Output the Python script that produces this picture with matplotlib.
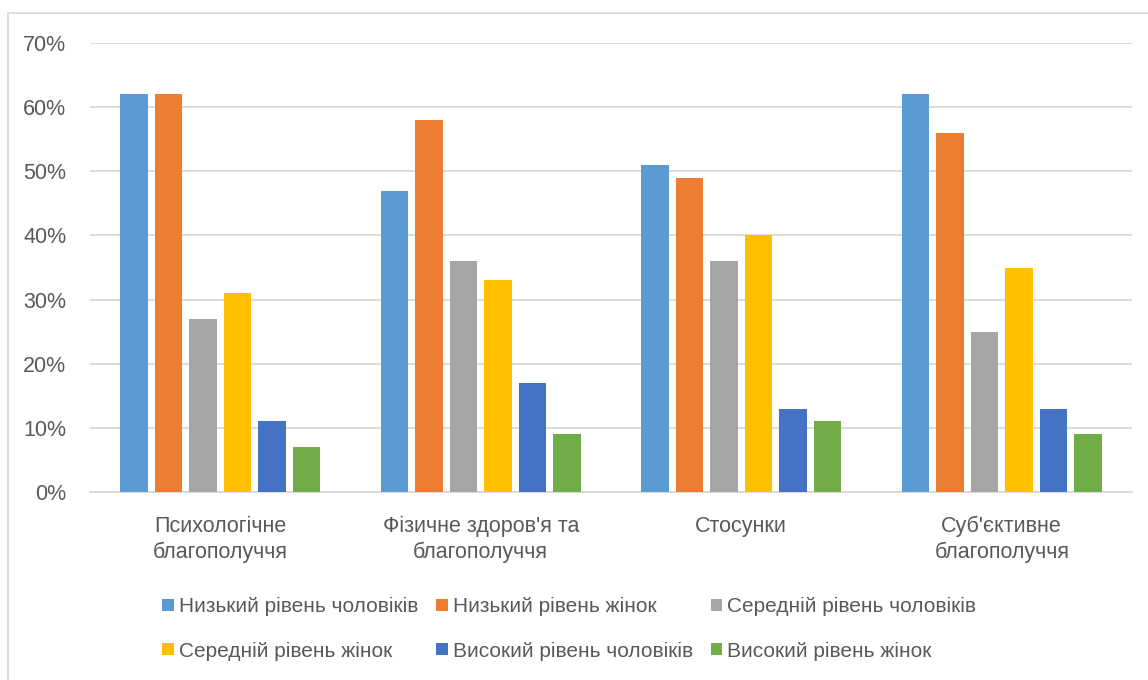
import numpy as np
import matplotlib.pyplot as plt
from matplotlib.patches import Rectangle

plt.rcParams['font.family'] = ['Liberation Sans', 'DejaVu Sans']

categories = ["Психологічне\nблагополуччя", "Фізичне здоров'я та\nблагополуччя",
              "Стосунки", "Суб'єктивне\nблагополуччя"]
series_names = ["Низький рівень чоловіків", "Низький рівень жінок",
                "Середній рівень чоловіків", "Середній рівень жінок",
                "Високий рівень чоловіків", "Високий рівень жінок"]
low_men = [62, 47, 51, 62]
low_women = [62, 58, 49, 56]
mid_men = [27, 36, 36, 25]
mid_women = [31, 33, 40, 35]
high_men = [11, 17, 13, 13]
high_women = [7, 9, 11, 9]
yticks = [0, 10, 20, 30, 40, 50, 60, 70]

colors = ['#5B9BD5', '#ED7D31', '#A5A5A5', '#FFC000', '#4472C4', '#70AD47']
txt_col = '#595959'
grid_col = '#D9D9D9'

fig = plt.figure(figsize=(11.48, 6.8), dpi=100)
ax = fig.add_axes([90/1148, 1 - 492/680, (1132 - 90)/1148, (492 - 43)/680])

# outer chart frame
fig.patches.append(Rectangle((8/1148, -0.1), 1.2, 1.1 - 13/680, transform=fig.transFigure,
                             fill=False, edgecolor=grid_col, linewidth=1.3))

data = [low_men, low_women, mid_men, mid_women, high_men, high_women]
x = np.arange(len(categories))
pitch = 0.1325
width = 0.104
handles = []
for i, vals in enumerate(data):
    off = (i - 2.5) * pitch
    b = ax.bar(x + off, vals, width, color=colors[i], zorder=3)
    handles.append(b)

ax.set_xlim(-0.5, len(categories) - 0.5)
ax.set_ylim(0, 70)
ax.set_yticks(yticks)
ax.set_yticklabels([f"{t}%" for t in yticks])
ax.set_xticks(x)
ax.set_xticklabels(categories, linespacing=1.3)
ax.tick_params(axis='both', length=0, labelsize=15.5, colors=txt_col)
ax.tick_params(axis='y', pad=17)
ax.tick_params(axis='x', pad=17)
ax.yaxis.grid(True, color=grid_col, linewidth=1.3, zorder=0)
for s in ['top', 'right', 'left']:
    ax.spines[s].set_visible(False)
ax.spines['bottom'].set_color(grid_col)
ax.spines['bottom'].set_linewidth(1.3)

order = [0, 3, 1, 4, 2, 5]
leg = fig.legend([handles[i] for i in order], [series_names[i] for i in order],
                 ncol=3, loc='center', bbox_to_anchor=(0.496, 1 - 629/680),
                 frameon=False, fontsize=15, handlelength=0.55, handleheight=0.55,
                 handletextpad=0.25, columnspacing=0.85, labelspacing=1.2)
for t in leg.get_texts():
    t.set_color(txt_col)

fig.savefig('out.png', dpi=100)
